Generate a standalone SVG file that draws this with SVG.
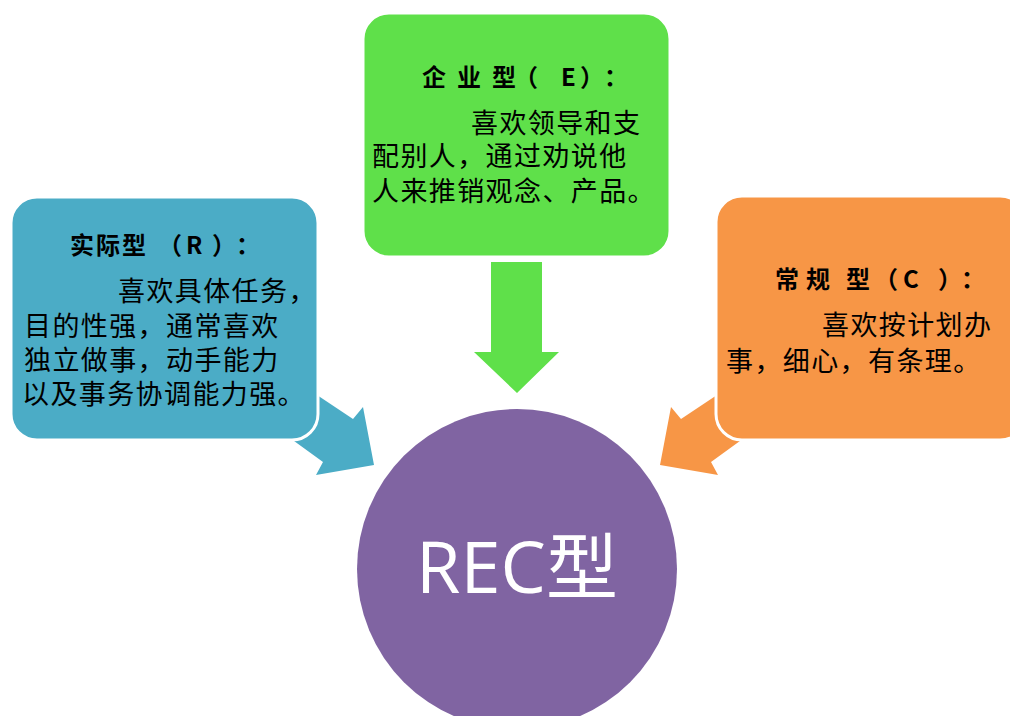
<svg xmlns="http://www.w3.org/2000/svg" width="1010" height="716" viewBox="0 0 1010 716">
<style>
.box{stroke:#fff;stroke-width:3}
.title{font-family:"Noto Sans CJK SC","Noto Sans",sans-serif;font-weight:bold;font-size:24px;fill:#000}
.body{font-family:"Noto Sans CJK SC","Noto Sans",sans-serif;font-size:27px;letter-spacing:1.4px;fill:#000}
</style>
<rect width="1010" height="716" fill="#fff"/>
<g id="connectors">
<polygon points="293,379 353,419 363,407 374,465 316,475 323,462 272,425" fill="#4BACC6"/>
<polygon points="741,379 681,419 671,407 660,465 718,475 711,462 762,425" fill="#F79646"/>
<polygon points="491,262 542,262 542,352 559,352 517,393 474,352 491,352" fill="#5FE04A"/>
</g>
<g id="node-r">
<rect class="box" x="11" y="197" width="307" height="243" rx="26" fill="#4BACC6"/>
<text class="title" x="70 96 122 158 186 212 236" y="254">实际型（R）：</text>
<text class="body" x="118" y="301">喜欢具体任务，</text>
<text class="body" x="24" y="336">目的性强，通常喜欢</text>
<text class="body" x="24" y="370">独立做事，动手能力</text>
<text class="body" x="22" y="404">以及事务协调能力强。</text>
</g>
<g id="node-e">
<rect class="box" x="363" y="13" width="307" height="244" rx="26" fill="#5FE04A"/>
<text class="title" x="422 457 492 514 561 580 604" y="86">企业型（E）：</text>
<text class="body" x="471" y="133">喜欢领导和支</text>
<text class="body" x="372" y="166">配别人，通过劝说他</text>
<text class="body" x="372" y="201">人来推销观念、产品。</text>
</g>
<g id="node-c">
<rect class="box" x="716" y="196" width="310" height="244" rx="26" fill="#F79646"/>
<text class="title" x="775 806 846 874 903 938 961" y="288">常规型（C）：</text>
<text class="body" x="822" y="335">喜欢按计划办</text>
<text class="body" x="726" y="371">事，细心，有条理。</text>
</g>
<g id="node-rec">
<circle cx="517" cy="569" r="160" fill="#8064A2"/>
<text x="517" y="593" text-anchor="middle" fill="#fff" font-family="'Open Sans','Noto Sans CJK SC',sans-serif" font-size="72">REC型</text>
</g>
</svg>
